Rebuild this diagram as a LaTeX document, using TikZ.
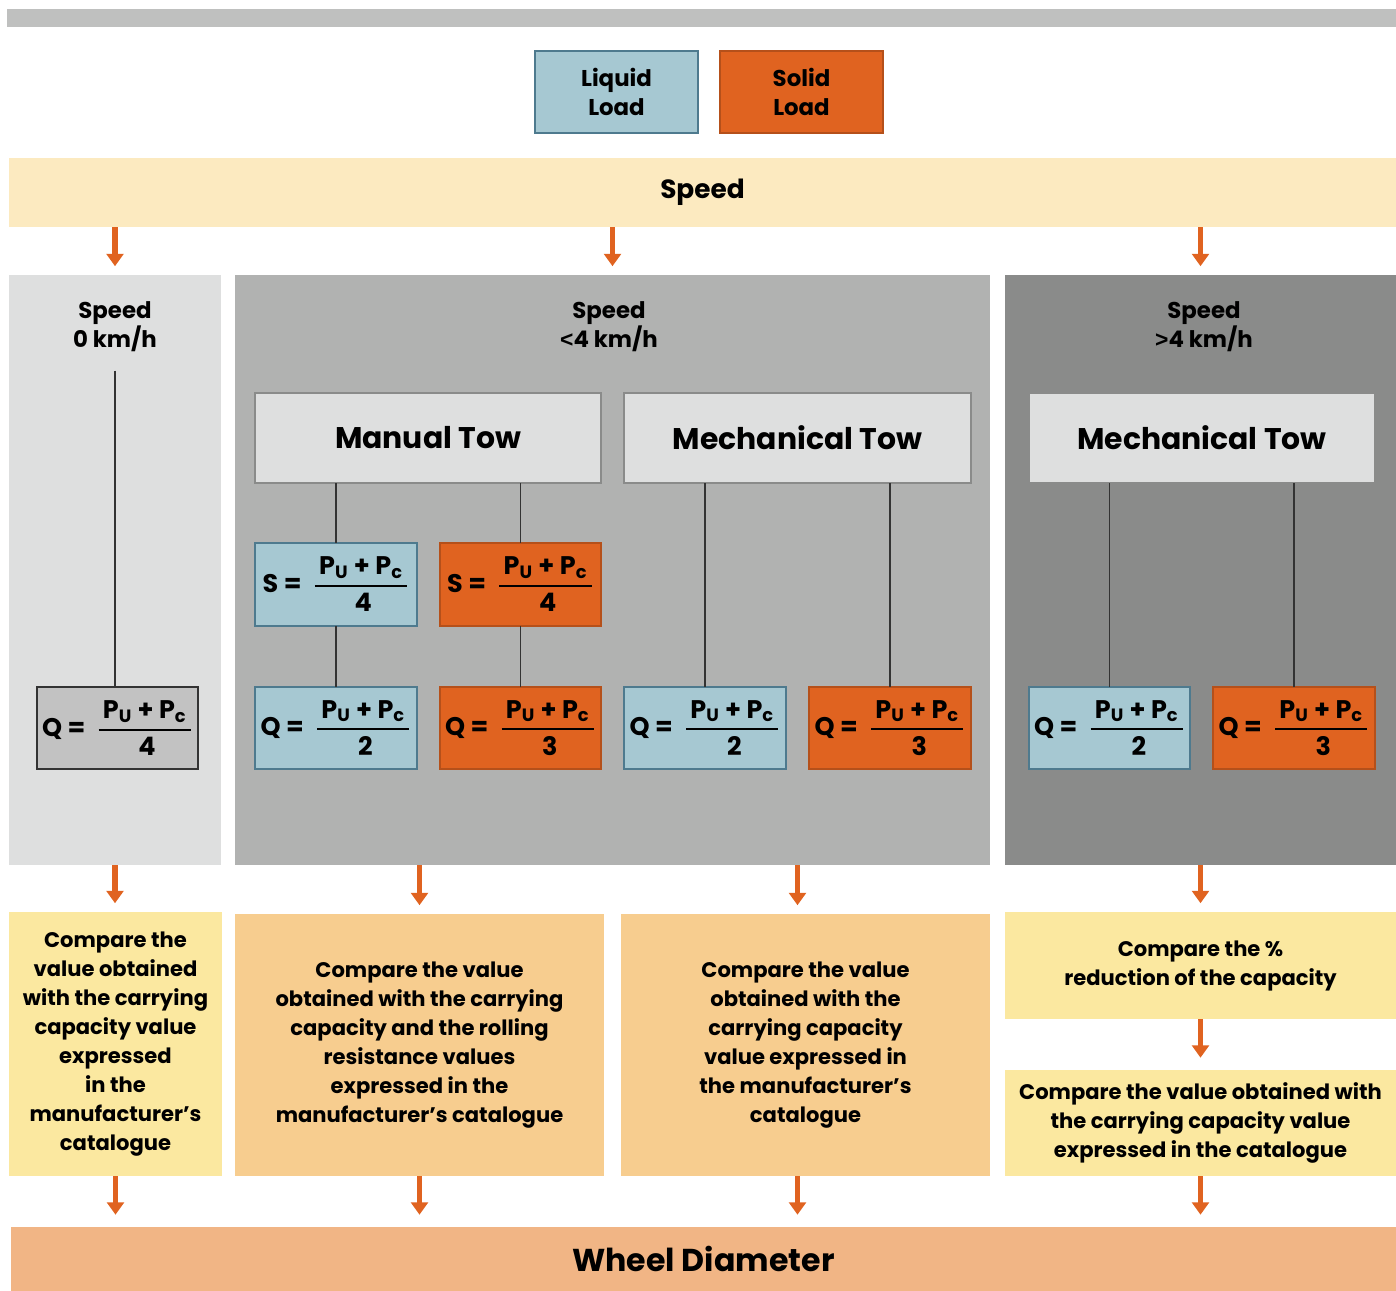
\documentclass[tikz,border=0pt]{standalone}
\usepackage{amsmath}
\usepackage{fontspec}
\setmainfont{Poppins}
\newfontfamily\relfont{Liberation Sans}
\usepackage{tikz}
\usetikzlibrary{arrows.meta,positioning,calc}

\definecolor{barGray}{HTML}{BFC0BF}
\definecolor{liquidBlue}{HTML}{A6C8D2}
\definecolor{liquidEdge}{HTML}{4E7A8E}
\definecolor{solidOrange}{HTML}{E06320}
\definecolor{solidEdge}{HTML}{B5501A}
\definecolor{bandCream}{HTML}{FCEAC0}
\definecolor{paneLight}{HTML}{DEDFDF}
\definecolor{paneMid}{HTML}{B1B2B1}
\definecolor{paneDark}{HTML}{8A8B8A}
\definecolor{checkYellow}{HTML}{FBE8A0}
\definecolor{checkOrange}{HTML}{F7CD8F}
\definecolor{wheelOrange}{HTML}{F1B585}

\newcommand{\frm}[2]{#1 =\;\,$\genfrac{}{}{1.2pt}{0}{\text{\,P\textsubscript{U} + P\textsubscript{c}\,}}{\text{\,#2}}$}

\begin{document}
\begin{tikzpicture}[
    x=0.02cm, y=-0.02cm,
    sized/.style 2 args={minimum width=#1*0.02cm, minimum height=#2*0.02cm,
                inner sep=0pt, outer sep=0pt},
    pane/.style={rectangle, draw=none, align=center},
    legend/.style={rectangle, draw=liquidEdge, line width=0.8pt, align=center,
                font=\fontsize{13}{16.5}\selectfont\bfseries},
    towbox/.style={rectangle, draw=paneDark, fill=paneLight, line width=0.7pt,
                font=\fontsize{17}{20}\selectfont\bfseries},
    formula/.style={rectangle, font=\fontsize{14.5}{17}\selectfont\bfseries},
    liq/.style={formula, draw=liquidEdge, fill=liquidBlue, line width=1.4pt},
    sol/.style={formula, draw=solidEdge, fill=solidOrange, line width=0.8pt},
    title/.style={align=center, font=\fontsize{13}{16.5}\selectfont\bfseries},
    check/.style={rectangle, draw=none, align=center,
                font=\fontsize{12}{16.5}\selectfont\bfseries},
    link/.style={draw=black!80, line width=1.1pt},
    arr/.style={draw=solidOrange, line width=3pt,
                -{Triangle[width=9.5pt, length=7pt]}, shorten >=5pt},
]
\useasboundingbox (0,0) rectangle (1396,1291);

% --- Header ---
\node[pane, fill=barGray, sized={1389}{18}] (topbar) at (701.5,18) {};
\node[legend, fill=liquidBlue, sized={163}{82}] (liquid) at (616.5,92) {Liquid\\Load};
\node[legend, draw=solidEdge, fill=solidOrange, sized={163}{82}] (solid) at (801.5,92) {Solid\\Load};
\node[pane, fill=bandCream, sized={1387}{69},
      font=\fontsize{15}{18}\selectfont\bfseries] (speed) at (702.5,192.5) {Speed};

% --- Speed panels ---
\node[pane, fill=paneLight, sized={212}{590}] (p0) at (115,570) {};
\node[pane, fill=paneMid, sized={755}{590}] (p1) at (612.5,570) {};
\node[pane, fill=paneDark, sized={391}{590}] (p2) at (1200.5,570) {};

\node[title] (t0) at (115,327) {Speed\\0 km/h};
\node[title] (t1) at (609,327) {Speed\\{\relfont <}4 km/h};
\node[title] (t2) at (1204,327) {Speed\\{\relfont >}4 km/h};

% --- Tow boxes ---
\node[towbox, sized={346}{90}] (manual) at (428,438) {Manual Tow};
\node[towbox, sized={347}{90}] (mech) at (797.5,438) {Mechanical Tow};
\node[towbox, sized={346}{90}] (mechfast) at (1202,438) {Mechanical Tow};

% --- Formulas ---
\node[liq, sized={162}{83}] (s1) at (336,584.5) {\frm{S}{4}};
\node[sol, sized={161}{83}] (s2) at (520.5,584.5) {\frm{S}{4}};
\node[formula, draw=black!80, fill=black!24, line width=0.8pt,
      sized={161}{82}] (q0) at (117.5,728) {\frm{Q}{4}};
\node[liq, sized={162}{82}] (q1) at (336,728) {\frm{Q}{2}};
\node[sol, sized={161}{82}] (q2) at (520.5,728) {\frm{Q}{3}};
\node[liq, line width=0.8pt, sized={162}{82}] (q3) at (705,728) {\frm{Q}{2}};
\node[sol, sized={162}{82}] (q4) at (890,728) {\frm{Q}{3}};
\node[liq, line width=0.8pt, sized={161}{82}] (q5) at (1109.5,728) {\frm{Q}{2}};
\node[sol, sized={162}{82}] (q6) at (1294,728) {\frm{Q}{3}};

\draw[link, shorten <=7pt] (t0.south) -- (t0.south |- q0.north);
\draw[link] (manual.south -| s1.north) -- (s1.north);
\draw[link] (manual.south -| s2.north) -- (s2.north);
\draw[link] (s1) -- (q1);
\draw[link] (s2) -- (q2);
\draw[link] (mech.south -| q3.north) -- (q3.north);
\draw[link] (mech.south -| q4.north) -- (q4.north);
\draw[link] (mechfast.south -| q5.north) -- (q5.north);
\draw[link] (mechfast.south -| q6.north) -- (q6.north);

% --- Checks ---
\node[check, fill=checkYellow, sized={213}{264}] (c0) at (115.5,1044)
  {Compare the\\value obtained\\with the carrying\\capacity value\\expressed\\in the\\manufacturer’s\\catalogue};
\node[check, fill=checkOrange, sized={369}{262}] (c1) at (419.5,1045)
  {Compare the value\\obtained with the carrying\\capacity and the rolling\\resistance values\\expressed in the\\manufacturer’s catalogue};
\node[check, fill=checkOrange, sized={369}{262}] (c2) at (805.5,1045)
  {Compare the value\\obtained with the\\carrying capacity\\value expressed in\\the manufacturer’s\\catalogue};
\node[check, fill=checkYellow, sized={391}{107}] (c3) at (1200.5,965.5)
  {Compare the \%\\reduction of the capacity};
\node[check, fill=checkYellow, sized={391}{106}] (c4) at (1200.5,1123)
  {Compare the value obtained with\\the carrying capacity value\\expressed in the catalogue};

\node[pane, fill=wheelOrange, sized={1385}{64},
      font=\fontsize{18}{21}\selectfont\bfseries] (wheel) at (703.5,1259) {Wheel Diameter};

% --- Arrows ---
\draw[arr] (speed.south -| p0.north) -- (p0.north);
\draw[arr] (speed.south -| p1.north) -- (p1.north);
\draw[arr] (speed.south -| p2.north) -- (p2.north);

\draw[arr] (p0.south) -- (p0.south |- c0.north);
\draw[arr] (p1.south -| c1.north) -- (c1.north);
\draw[arr] (p1.south -| mech.south) -- (mech.south |- c2.north);
\draw[arr] (p2.south) -- (p2.south |- c3.north);
\draw[arr, shorten >=7pt] (c3) -- (c4);

\draw[arr, shorten >=7pt] (c0.south) -- (c0.south |- wheel.north);
\draw[arr, shorten >=7pt] (c1.south) -- (c1.south |- wheel.north);
\draw[arr, shorten >=7pt] (c2.south -| mech.south) -- (mech.south |- wheel.north);
\draw[arr, shorten >=7pt] (c4.south) -- (c4.south |- wheel.north);

\end{tikzpicture}
\end{document}
